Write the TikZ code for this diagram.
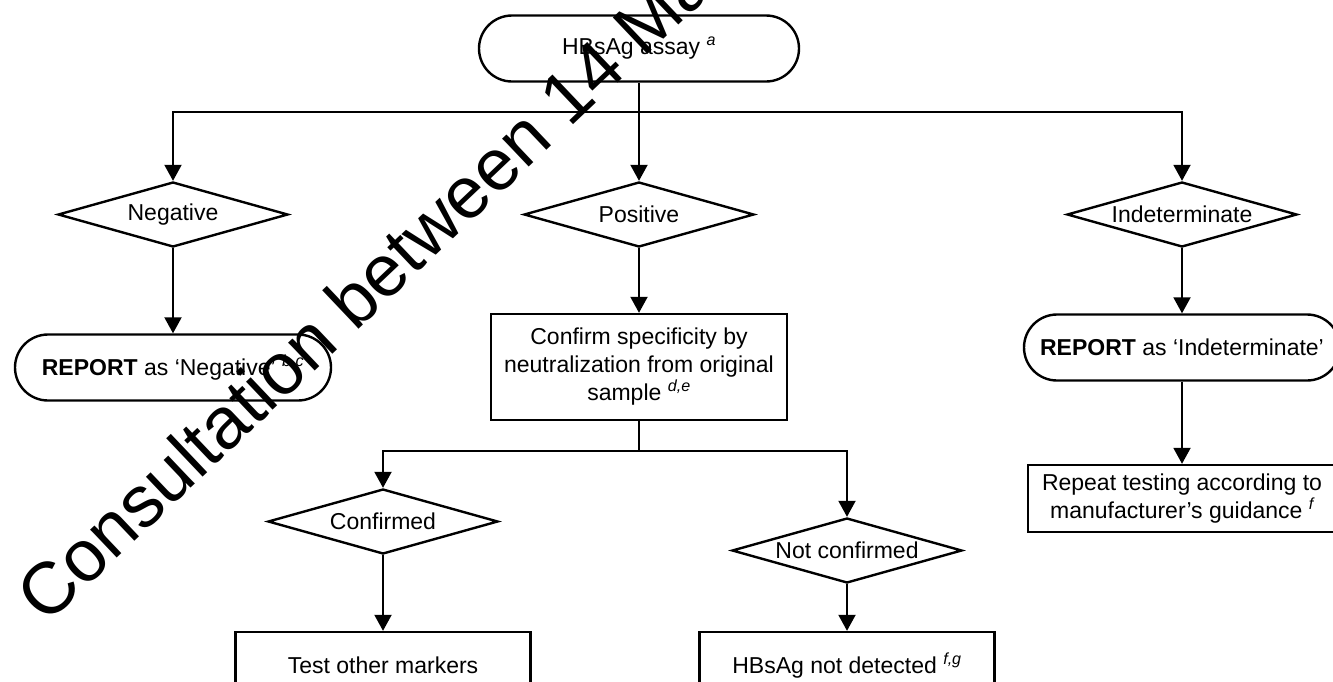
\documentclass[tikz,border=0pt]{standalone}
\usepackage{fontspec}
\setmainfont{Liberation Sans}
\usetikzlibrary{shapes.geometric,shapes.misc,arrows.meta}
\newcommand{\supit}[1]{\textsuperscript{\itshape #1}}
\begin{document}
\begin{tikzpicture}[x=1pt,y=-1pt,
  every node/.style={font=\fontsize{23}{28}\selectfont, inner sep=0pt, align=center},
  dia/.style={draw, line width=2.4pt, diamond, aspect=3.5, minimum width=230pt, minimum height=65pt},
  stad/.style={draw, line width=2.4pt, rounded rectangle, minimum height=66pt},
  stepbox/.style={draw, line width=2.4pt, rectangle},
  arr/.style={line width=2pt, -{Triangle[width=17pt 0 0,length=16pt 0 0]}},
  ln/.style={line width=2pt},
]
\useasboundingbox (0,0) rectangle (1333,681);
\clip (0,0) rectangle (1333,681);

\node[stad, minimum width=320pt] (top) at (639,48.5) {HBsAg assay \supit{a}};

\node[dia] (neg) at (173,214.5) {Negative};
\node[dia] (pos) at (639,214.5) {Positive};
\node[dia] (ind) at (1182,214.5) {Indeterminate};

\node[stad, minimum width=316pt] (repneg) at (173,367.5) {\textbf{REPORT} as ‘Negative’ \supit{b,c}};
\node[stepbox, minimum width=296pt, minimum height=106pt] (conf) at (639,367) {Confirm specificity by\\neutralization from original\\sample \supit{d,e}};
\node[stad, minimum width=316pt] (repind) at (1182,347.5) {\textbf{REPORT} as ‘Indeterminate’};
\node[stepbox, minimum width=308pt, minimum height=67pt] (rep) at (1182,498.5) {Repeat testing according to\\manufacturer’s guidance \supit{f}};

\node[dia] (cfd) at (383,521.5) {Confirmed};
\node[dia] (ncf) at (847,550.5) {Not confirmed};

\node[stepbox, minimum width=295pt, minimum height=67pt] (test) at (383,665.5) {Test other markers};
\node[stepbox, minimum width=295pt, minimum height=67pt] (hbs) at (847,665.5) {HBsAg not detected \supit{f,g}};

\coordinate (j1) at (639,112);
\coordinate (j2) at (639,451);

\draw[arr] (top.south) -- (pos.north);
\draw[arr] (j1) -| (neg.north);
\draw[arr] (j1) -| (ind.north);
\draw[arr] (neg.south) -- (repneg.north);
\draw[arr] (pos.south) -- (conf.north);
\draw[arr] (ind.south) -- (repind.north);
\draw[arr] (repind.south) -- (rep.north);
\draw[ln] (conf.south) -- (j2);
\draw[arr] (j2) -| (cfd.north);
\draw[arr] (j2) -| (ncf.north);
\draw[arr] (cfd.south) -- (test.north);
\draw[arr] (ncf.south) -- (hbs.north);

\node[rotate=43.5, anchor=base west, font=\fontsize{73}{73}\selectfont] (wm) at (46,626) {Consultation between 14 May};
\end{tikzpicture}
\end{document}
